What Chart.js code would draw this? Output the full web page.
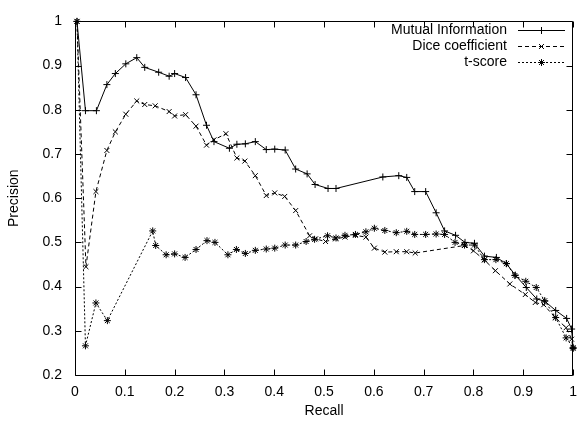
<!DOCTYPE html>
<html>
<head>
<meta charset="utf-8">
<script src="https://cdn.jsdelivr.net/npm/chart.js@4.4.0/dist/chart.umd.min.js"></script>
<style>
  html, body { margin: 0; padding: 0; background: #fff; }
  #wrap { width: 586px; height: 426px; }
</style>
</head>
<body>
<div id="wrap"><canvas id="chart" width="586" height="426"></canvas></div>
<script>
const seriesNames = ['Mutual Information', 'Dice coefficient', 't-score'];

const miRecall = [0.004, 0.021, 0.043, 0.064, 0.081, 0.102, 0.124, 0.140, 0.168, 0.189,
    0.200, 0.222, 0.243, 0.264, 0.279, 0.310, 0.325, 0.342, 0.362, 0.384,
    0.401, 0.422, 0.443, 0.466, 0.482, 0.508, 0.524, 0.618, 0.650, 0.666,
    0.682, 0.704, 0.725, 0.742, 0.764, 0.783, 0.802, 0.822, 0.846, 0.866,
    0.884, 0.906, 0.927, 0.943, 0.965, 0.987, 0.997, 1.0];
const miPrecision = [1.0, 0.798, 0.798, 0.857, 0.882, 0.904, 0.918, 0.896, 0.885, 0.876,
    0.882, 0.873, 0.834, 0.765, 0.728, 0.713, 0.722, 0.723, 0.728, 0.710,
    0.711, 0.709, 0.666, 0.655, 0.631, 0.622, 0.622, 0.648, 0.651, 0.647,
    0.615, 0.615, 0.567, 0.526, 0.516, 0.500, 0.498, 0.469, 0.466, 0.452,
    0.426, 0.398, 0.372, 0.367, 0.346, 0.328, 0.304, 0.26];

const diceRecall = [0.004, 0.022, 0.042, 0.064, 0.081, 0.102, 0.124, 0.140, 0.161, 0.189,
    0.200, 0.222, 0.243, 0.264, 0.279, 0.303, 0.325, 0.341, 0.362, 0.384,
    0.401, 0.421, 0.443, 0.471, 0.483, 0.503, 0.523, 0.542, 0.563, 0.584,
    0.601, 0.622, 0.645, 0.666, 0.683, 0.782, 0.800, 0.822, 0.844, 0.873,
    0.904, 0.924, 0.941, 0.964, 0.986, 0.997, 1.0];
const dicePrecision = [1.0, 0.445, 0.615, 0.708, 0.750, 0.790, 0.820, 0.812, 0.809, 0.796,
    0.786, 0.789, 0.763, 0.720, 0.732, 0.746, 0.691, 0.684, 0.651, 0.606,
    0.612, 0.604, 0.572, 0.515, 0.508, 0.502, 0.508, 0.512, 0.516, 0.512,
    0.487, 0.478, 0.479, 0.479, 0.476, 0.493, 0.481, 0.460, 0.436, 0.406,
    0.382, 0.364, 0.359, 0.330, 0.307, 0.281, 0.26];

const tRecall = [0.004, 0.021, 0.042, 0.065, 0.156, 0.162, 0.183, 0.200, 0.221, 0.243,
    0.265, 0.281, 0.307, 0.324, 0.342, 0.362, 0.384, 0.401, 0.422, 0.443,
    0.464, 0.481, 0.507, 0.524, 0.542, 0.563, 0.584, 0.601, 0.622, 0.645,
    0.666, 0.682, 0.704, 0.725, 0.742, 0.763, 0.782, 0.802, 0.822, 0.845,
    0.866, 0.883, 0.905, 0.926, 0.943, 0.965, 0.986, 1.0];
const tPrecision = [1.0, 0.266, 0.363, 0.323, 0.526, 0.493, 0.472, 0.474, 0.466, 0.484,
    0.504, 0.500, 0.472, 0.484, 0.475, 0.482, 0.485, 0.487, 0.494, 0.494,
    0.502, 0.507, 0.515, 0.510, 0.516, 0.518, 0.524, 0.532, 0.527, 0.522,
    0.525, 0.518, 0.518, 0.519, 0.518, 0.500, 0.494, 0.494, 0.461, 0.461,
    0.452, 0.425, 0.412, 0.398, 0.368, 0.330, 0.284, 0.262];

const FONT = '"Liberation Sans", Arial, Helvetica, sans-serif';

function zip(xs, ys) {
    return xs.map((x, i) => ({ x: x, y: ys[i] }));
}

function fmt(v) {
    return String(Math.round(v * 10) / 10);
}

function series(label, xs, ys, dash, marker) {
    return {
        label: label,
        data: zip(xs, ys),
        showLine: true,
        borderColor: '#000',
        borderWidth: 1,
        borderDash: dash,
        tension: 0,
        pointStyle: marker,
        pointRadius: 3.5,
        pointBorderWidth: 1,
        pointBorderColor: '#000',
        pointBackgroundColor: 'transparent',
        clip: false
    };
}

// border round the plot with inward ticks on all four sides, like gnuplot
const framePlugin = {
    id: 'frame',
    beforeDatasetsDraw(chart) {
        const { ctx, chartArea: a, scales } = chart;
        const L = Math.round(a.left) + 0.5, R = Math.round(a.right) - 0.5;
        const T = Math.round(a.top) + 0.5, B = Math.round(a.bottom) + 0.5;
        ctx.save();
        ctx.strokeStyle = '#000';
        ctx.lineWidth = 1;
        ctx.beginPath();
        ctx.rect(L, T, R - L, B - T);
        scales.x.ticks.forEach(t => {
            const px = Math.round(scales.x.getPixelForValue(t.value)) + 0.5;
            ctx.moveTo(px, B); ctx.lineTo(px, B - 6);
            ctx.moveTo(px, T); ctx.lineTo(px, T + 6);
        });
        scales.y.ticks.forEach(t => {
            const py = Math.round(scales.y.getPixelForValue(t.value)) + 0.5;
            ctx.moveTo(L, py); ctx.lineTo(L + 6, py);
            ctx.moveTo(R, py); ctx.lineTo(R - 6, py);
        });
        ctx.stroke();
        ctx.restore();
    }
};

// key in the top right corner: text first, then line sample with marker
const keyPlugin = {
    id: 'key',
    afterDraw(chart) {
        const ctx = chart.ctx;
        ctx.save();
        ctx.font = '14px ' + FONT;
        ctx.fillStyle = '#000';
        ctx.strokeStyle = '#000';
        ctx.lineWidth = 1;
        ctx.textAlign = 'right';
        ctx.textBaseline = 'middle';
        chart.data.datasets.forEach((ds, i) => {
            const y = 30 + i * 16;
            ctx.fillText(ds.label, 507, y);
            ctx.setLineDash(ds.borderDash);
            ctx.beginPath();
            ctx.moveTo(518, y + 0.5);
            ctx.lineTo(565, y + 0.5);
            ctx.stroke();
            ctx.setLineDash([]);
            Chart.helpers.drawPoint(ctx, { pointStyle: ds.pointStyle, radius: 3.5, borderWidth: 1, rotation: 0 }, 541.5, y + 0.5);
        });
        ctx.restore();
    }
};

const tickFont = { family: FONT, size: 14 };

new Chart(document.getElementById('chart'), {
    type: 'scatter',
    data: {
        datasets: [
            series(seriesNames[0], miRecall, miPrecision, [], 'cross'),
            series(seriesNames[1], diceRecall, dicePrecision, [4, 3], 'crossRot'),
            series(seriesNames[2], tRecall, tPrecision, [2, 2], 'star')
        ]
    },
    options: {
        responsive: false,
        animation: false,
        layout: { padding: { top: 15, right: 2, bottom: 0, left: 0 } },
        plugins: {
            legend: { display: false },
            tooltip: { enabled: false }
        },
        scales: {
            x: {
                type: 'linear',
                min: 0,
                max: 1,
                ticks: { stepSize: 0.1, autoSkip: false, maxRotation: 0, padding: 9, color: '#000', font: tickFont, callback: fmt },
                grid: { display: false, drawTicks: false },
                border: { display: false },
                title: { display: true, text: 'Recall', color: '#000', font: tickFont, padding: { top: 0, bottom: 6 } },
                afterFit(s) { s.height = 51; }
            },
            y: {
                min: 0.2,
                max: 1,
                ticks: { stepSize: 0.1, autoSkip: false, padding: 13, color: '#000', font: tickFont, callback: fmt },
                grid: { display: false, drawTicks: false },
                border: { display: false },
                title: { display: true, text: 'Precision', color: '#000', font: tickFont, padding: { top: 6, bottom: 0 } },
                afterFit(s) { s.width = 75; }
            }
        }
    },
    plugins: [framePlugin, keyPlugin]
});
</script>
</body>
</html>
